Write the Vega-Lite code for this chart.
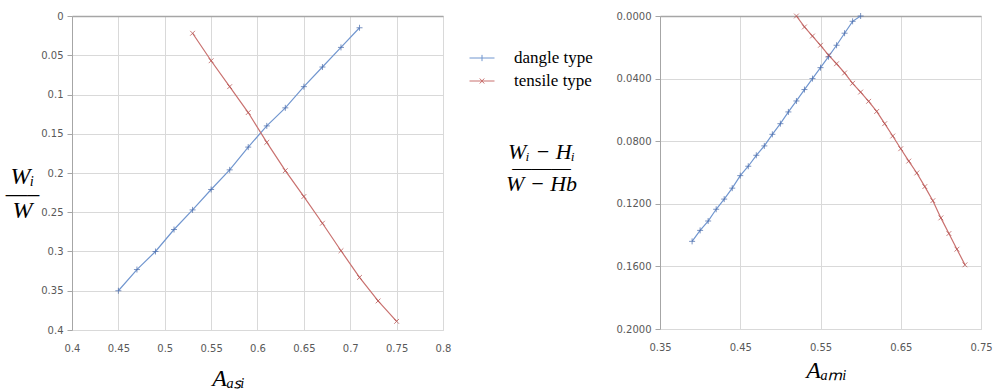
{
  "$schema": "https://vega.github.io/schema/vega-lite/v6.json",
  "background": "white",
  "padding": {"left": 4, "top": 10, "right": 0, "bottom": 0},
  "spacing": 52,
  "datasets": {
    "left": [
      {"series": "dangle type", "x": 0.45, "y": 0.350},
      {"series": "dangle type", "x": 0.47, "y": 0.323},
      {"series": "dangle type", "x": 0.49, "y": 0.300},
      {"series": "dangle type", "x": 0.51, "y": 0.272},
      {"series": "dangle type", "x": 0.53, "y": 0.247},
      {"series": "dangle type", "x": 0.55, "y": 0.221},
      {"series": "dangle type", "x": 0.57, "y": 0.196},
      {"series": "dangle type", "x": 0.59, "y": 0.167},
      {"series": "dangle type", "x": 0.61, "y": 0.140},
      {"series": "dangle type", "x": 0.63, "y": 0.117},
      {"series": "dangle type", "x": 0.65, "y": 0.090},
      {"series": "dangle type", "x": 0.67, "y": 0.065},
      {"series": "dangle type", "x": 0.69, "y": 0.040},
      {"series": "dangle type", "x": 0.71, "y": 0.015},
      {"series": "tensile type", "x": 0.53, "y": 0.022},
      {"series": "tensile type", "x": 0.55, "y": 0.057},
      {"series": "tensile type", "x": 0.57, "y": 0.090},
      {"series": "tensile type", "x": 0.59, "y": 0.123},
      {"series": "tensile type", "x": 0.61, "y": 0.161},
      {"series": "tensile type", "x": 0.63, "y": 0.197},
      {"series": "tensile type", "x": 0.65, "y": 0.230},
      {"series": "tensile type", "x": 0.67, "y": 0.264},
      {"series": "tensile type", "x": 0.69, "y": 0.299},
      {"series": "tensile type", "x": 0.71, "y": 0.333},
      {"series": "tensile type", "x": 0.73, "y": 0.363},
      {"series": "tensile type", "x": 0.75, "y": 0.389}
    ],
    "right": [
      {"series": "dangle type", "x": 0.39, "y": 0.144},
      {"series": "dangle type", "x": 0.40, "y": 0.137},
      {"series": "dangle type", "x": 0.41, "y": 0.131},
      {"series": "dangle type", "x": 0.42, "y": 0.1235},
      {"series": "dangle type", "x": 0.43, "y": 0.117},
      {"series": "dangle type", "x": 0.44, "y": 0.110},
      {"series": "dangle type", "x": 0.45, "y": 0.102},
      {"series": "dangle type", "x": 0.46, "y": 0.096},
      {"series": "dangle type", "x": 0.47, "y": 0.089},
      {"series": "dangle type", "x": 0.48, "y": 0.083},
      {"series": "dangle type", "x": 0.49, "y": 0.0756},
      {"series": "dangle type", "x": 0.50, "y": 0.0688},
      {"series": "dangle type", "x": 0.51, "y": 0.0613},
      {"series": "dangle type", "x": 0.52, "y": 0.0543},
      {"series": "dangle type", "x": 0.53, "y": 0.047},
      {"series": "dangle type", "x": 0.54, "y": 0.040},
      {"series": "dangle type", "x": 0.55, "y": 0.033},
      {"series": "dangle type", "x": 0.56, "y": 0.026},
      {"series": "dangle type", "x": 0.57, "y": 0.0187},
      {"series": "dangle type", "x": 0.58, "y": 0.011},
      {"series": "dangle type", "x": 0.59, "y": 0.0034},
      {"series": "dangle type", "x": 0.60, "y": 0.0},
      {"series": "tensile type", "x": 0.52, "y": 0.000},
      {"series": "tensile type", "x": 0.53, "y": 0.007},
      {"series": "tensile type", "x": 0.54, "y": 0.0128},
      {"series": "tensile type", "x": 0.55, "y": 0.0187},
      {"series": "tensile type", "x": 0.56, "y": 0.025},
      {"series": "tensile type", "x": 0.57, "y": 0.0305},
      {"series": "tensile type", "x": 0.58, "y": 0.0364},
      {"series": "tensile type", "x": 0.59, "y": 0.043},
      {"series": "tensile type", "x": 0.60, "y": 0.0486},
      {"series": "tensile type", "x": 0.61, "y": 0.0545},
      {"series": "tensile type", "x": 0.62, "y": 0.061},
      {"series": "tensile type", "x": 0.63, "y": 0.0688},
      {"series": "tensile type", "x": 0.64, "y": 0.0767},
      {"series": "tensile type", "x": 0.65, "y": 0.0848},
      {"series": "tensile type", "x": 0.66, "y": 0.0927},
      {"series": "tensile type", "x": 0.67, "y": 0.1003},
      {"series": "tensile type", "x": 0.68, "y": 0.109},
      {"series": "tensile type", "x": 0.69, "y": 0.118},
      {"series": "tensile type", "x": 0.70, "y": 0.129},
      {"series": "tensile type", "x": 0.71, "y": 0.139},
      {"series": "tensile type", "x": 0.72, "y": 0.149},
      {"series": "tensile type", "x": 0.73, "y": 0.159}
    ]
  },
  "hconcat": [
    {
      "width": 371,
      "height": 314,
      "data": {"name": "left"},
      "layer": [
        {
          "mark": {"type": "line", "strokeWidth": 1.2},
          "encoding": {
            "x": {"field": "x", "type": "quantitative",
              "scale": {"domain": [0.4, 0.8], "nice": false, "zero": false},
              "axis": {"values": [0.4, 0.45, 0.5, 0.55, 0.6, 0.65, 0.7, 0.75, 0.8], "format": "~g", "tickCount": 20,
                "title": "Aₐₛᵢ", "titleFontSize": 24, "titleAlign": "center", "titleBaseline": "alphabetic", "titleX": 156, "titleY": 55}},
            "y": {"field": "y", "type": "quantitative",
              "scale": {"domain": [0, 0.4], "nice": false, "reverse": true},
              "axis": {"values": [0, 0.05, 0.1, 0.15, 0.2, 0.25, 0.3, 0.35, 0.4], "format": "~g", "labelOverlap": false, "tickCount": 20,
                "title": ["Wᵢ", "—–", "W"], "titleFontSize": 24, "titleLineHeight": 17, "titleX": -50, "titleY": 160}},
            "color": {"field": "series", "type": "nominal",
              "scale": {"domain": ["dangle type", "tensile type"], "range": ["#7196cf", "#c9716f"]},
              "legend": {"title": null, "orient": "none", "legendX": 397, "legendY": 29, "padding": 0,
                "symbolType": "M-1,0H1", "symbolSize": 625, "symbolStrokeWidth": 1,
                "labelFont": "Liberation Serif", "labelFontSize": 17, "labelColor": "black", "labelOffset": 19, "rowPadding": 2,
                "encode": {"symbols": {"update": {"fill": {"value": "transparent"},
                  "shape": {"signal": "datum.label === 'dangle type' ? 'M-1,0H1M0,-0.25V0.25' : 'M-1,0H1M-0.18,-0.2L0.18,0.2M-0.18,0.2L0.18,-0.2'"}}}}}}
          }
        },
        {
          "transform": [{"filter": "datum.series === 'dangle type'"}],
          "mark": {"type": "point", "filled": false, "size": 36, "strokeWidth": 1, "shape": "M-1,0H1M0,-1V1", "stroke": "#4467a8"},
          "encoding": {
            "x": {"field": "x", "type": "quantitative"},
            "y": {"field": "y", "type": "quantitative"}
          }
        },
        {
          "transform": [{"filter": "datum.series === 'tensile type'"}],
          "mark": {"type": "point", "filled": false, "size": 36, "strokeWidth": 1, "shape": "M-0.8,-0.8L0.8,0.8M-0.8,0.8L0.8,-0.8", "stroke": "#b24a48"},
          "encoding": {
            "x": {"field": "x", "type": "quantitative"},
            "y": {"field": "y", "type": "quantitative"}
          }
        }
      ]
    },
    {
      "width": 321,
      "height": 313,
      "data": {"name": "right"},
      "layer": [
        {
          "mark": {"type": "line", "strokeWidth": 1.2},
          "encoding": {
            "x": {"field": "x", "type": "quantitative",
              "scale": {"domain": [0.35, 0.75], "nice": false, "zero": false},
              "axis": {"values": [0.35, 0.45, 0.55, 0.65, 0.75], "format": "~g", "tickCount": 20,
                "title": "Aₐₘᵢ", "titleFontSize": 24, "titleAlign": "center", "titleBaseline": "alphabetic", "titleX": 166, "titleY": 48}},
            "y": {"field": "y", "type": "quantitative",
              "scale": {"domain": [0, 0.2], "nice": false, "reverse": true},
              "axis": {"values": [0, 0.04, 0.08, 0.12, 0.16, 0.2], "format": ".4f", "labelOverlap": false, "tickCount": 20,
                "title": ["Wᵢ − Hᵢ", "———", "W − Hb"], "titleFontSize": 22, "titleLineHeight": 16, "titleX": -119, "titleY": 135}},
            "color": {"field": "series", "type": "nominal",
              "scale": {"domain": ["dangle type", "tensile type"], "range": ["#7196cf", "#c9716f"]},
              "legend": {"title": null, "orient": "none", "legendX": 397, "legendY": 29, "padding": 0,
                "symbolType": "M-1,0H1", "symbolSize": 625, "symbolStrokeWidth": 1,
                "labelFont": "Liberation Serif", "labelFontSize": 17, "labelColor": "black", "labelOffset": 19, "rowPadding": 2,
                "encode": {"symbols": {"update": {"fill": {"value": "transparent"},
                  "shape": {"signal": "datum.label === 'dangle type' ? 'M-1,0H1M0,-0.25V0.25' : 'M-1,0H1M-0.18,-0.2L0.18,0.2M-0.18,0.2L0.18,-0.2'"}}}}}}
          }
        },
        {
          "transform": [{"filter": "datum.series === 'dangle type'"}],
          "mark": {"type": "point", "filled": false, "size": 36, "strokeWidth": 1, "shape": "M-1,0H1M0,-1V1", "stroke": "#4467a8"},
          "encoding": {
            "x": {"field": "x", "type": "quantitative"},
            "y": {"field": "y", "type": "quantitative"}
          }
        },
        {
          "transform": [{"filter": "datum.series === 'tensile type'"}],
          "mark": {"type": "point", "filled": false, "size": 36, "strokeWidth": 1, "shape": "M-0.8,-0.8L0.8,0.8M-0.8,0.8L0.8,-0.8", "stroke": "#b24a48"},
          "encoding": {
            "x": {"field": "x", "type": "quantitative"},
            "y": {"field": "y", "type": "quantitative"}
          }
        }
      ]
    }
  ],
  "config": {
    "view": {"stroke": "#d9d9d9", "strokeWidth": 1},
    "axis": {"gridColor": "#d9d9d9", "gridWidth": 1, "labelFont": "DejaVu Sans", "labelFontSize": 10, "labelColor": "#595959", "labelFlush": false,
      "titleFont": "Liberation Serif", "titleFontStyle": "italic", "titleFontWeight": "normal", "titleColor": "black"},
    "axisX": {"domain": false, "ticks": false, "labelPadding": 13},
    "axisY": {"domainColor": "#a6a6a6", "tickColor": "#a6a6a6", "tickSize": 5, "labelPadding": 4,
      "gridColor": {"condition": {"test": "datum.value === 0", "value": "#a6a6a6"}, "value": "#d9d9d9"},
      "gridWidth": {"condition": {"test": "datum.value === 0", "value": 1.6}, "value": 1},
      "titleAngle": 0, "titleAlign": "center", "titleBaseline": "middle"}
  }
}
